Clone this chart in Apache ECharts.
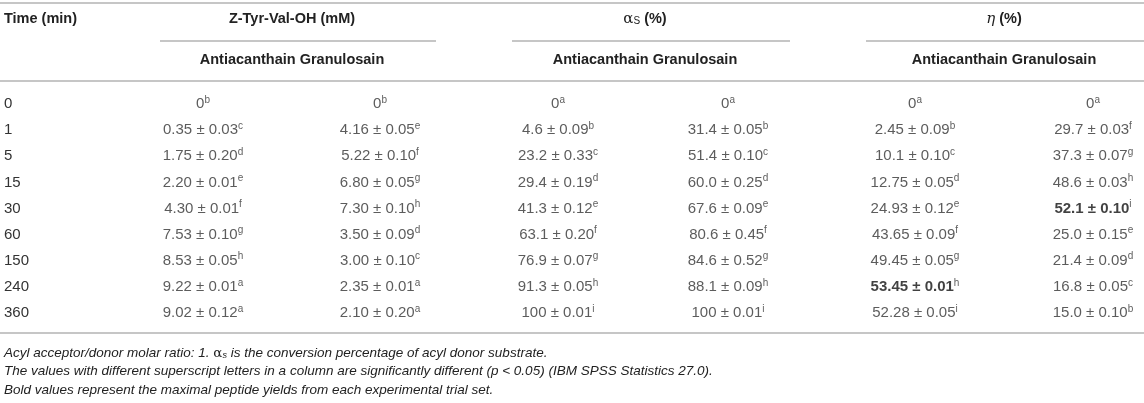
<!DOCTYPE html>
<html><head><meta charset="utf-8">
<script src="https://cdn.jsdelivr.net/npm/echarts@6.0.0/dist/echarts.min.js"></script>
<style>html,body{margin:0;padding:0;background:#fff}#c{width:1144px;height:403px}</style>
</head><body><div id="c"></div>
<script>
// ---------------- DATA ----------------
const times = ['0','1','5','15','30','60','150','240','360'];
const zAnti = ['0','0.35 ± 0.03','1.75 ± 0.20','2.20 ± 0.01','4.30 ± 0.01','7.53 ± 0.10','8.53 ± 0.05','9.22 ± 0.01','9.02 ± 0.12'];
const zAntiSig = ['b','c','d','e','f','g','h','a','a'];
const zGran = ['0','4.16 ± 0.05','5.22 ± 0.10','6.80 ± 0.05','7.30 ± 0.10','3.50 ± 0.09','3.00 ± 0.10','2.35 ± 0.01','2.10 ± 0.20'];
const zGranSig = ['b','e','f','g','h','d','c','a','a'];
const aAnti = ['0','4.6 ± 0.09','23.2 ± 0.33','29.4 ± 0.19','41.3 ± 0.12','63.1 ± 0.20','76.9 ± 0.07','91.3 ± 0.05','100 ± 0.01'];
const aAntiSig = ['a','b','c','d','e','f','g','h','i'];
const aGran = ['0','31.4 ± 0.05','51.4 ± 0.10','60.0 ± 0.25','67.6 ± 0.09','80.6 ± 0.45','84.6 ± 0.52','88.1 ± 0.09','100 ± 0.01'];
const aGranSig = ['a','b','c','d','e','f','g','h','i'];
const eAnti = ['0','2.45 ± 0.09','10.1 ± 0.10','12.75 ± 0.05','24.93 ± 0.12','43.65 ± 0.09','49.45 ± 0.05','53.45 ± 0.01','52.28 ± 0.05'];
const eAntiSig = ['a','b','c','d','e','f','g','h','i'];
const eGran = ['0','29.7 ± 0.03','37.3 ± 0.07','48.6 ± 0.03','52.1 ± 0.10','25.0 ± 0.15','21.4 ± 0.09','16.8 ± 0.05','15.0 ± 0.10'];
const eGranSig = ['a','f','g','h','i','e','d','c','b'];

const groupTitles = ['Z-Tyr-Val-OH (mM)', '{g|α}{sub|S}{b| (%)}', '{gi|η}{b| (%)}'];
const subTitle = 'Antiacanthain Granulosain';
const timeTitle = 'Time (min)';
const footnotes = [
  '{i|Acyl acceptor/donor molar ratio: 1. }{g|α}{sub|s}{i| is the conversion percentage of acyl donor substrate.}',
  '{i|The values with different superscript letters in a column are significantly different (p < 0.05) (IBM SPSS Statistics 27.0).}',
  '{i|Bold values represent the maximal peptide yields from each experimental trial set.}'
];

// ---------------- LAYOUT ----------------
const W = 1144, H = 403;
const FONT = '"Liberation Sans", Arial, Helvetica, sans-serif';
const TXT = '#333333';
const RULE = '#c6c6c6';
const COL_X = [203, 380, 558, 728, 915, 1093];
const GROUP_CX = [292, 645, 1004];
const GROUP_LINE = [[160, 436], [512, 790], [866, 1144]];
const ROW_TOP = 91, ROW_H = 235;

const columns = [
  [zAnti, zAntiSig], [zGran, zGranSig],
  [aAnti, aAntiSig], [aGran, aGranSig],
  [eAnti, eAntiSig], [eGran, eGranSig]
];
// bold = maximal yield (η columns)
function maxIdx(arr) {
  let m = -Infinity, k = -1;
  arr.forEach((s, i) => { const v = parseFloat(s); if (v > m) { m = v; k = i; } });
  return k;
}
const boldIdx = [-1, -1, -1, -1, maxIdx(eAnti), maxIdx(eGran)];

const cellRich = {
  v: { fontSize: 15, fontFamily: FONT, color: TXT, lineHeight: 18 },
  vb: { fontSize: 15, fontFamily: FONT, color: '#111', fontWeight: 'bold', lineHeight: 18 },
  s: { fontSize: 10, fontFamily: FONT, color: TXT, verticalAlign: 'top', lineHeight: 12 }
};

const series = columns.map((col, c) => ({
  type: 'scatter',
  symbolSize: 0,
  silent: true,
  animation: false,
  data: col[0].map((v, i) => [COL_X[c], i]),
  label: {
    show: true,
    position: 'inside',
    align: 'center',
    verticalAlign: 'middle',
    rich: cellRich,
    formatter: p => {
      const i = p.dataIndex;
      const key = (i === boldIdx[c]) ? 'vb' : 'v';
      return '{' + key + '|' + col[0][i] + '}{s|' + col[1][i] + '}';
    }
  }
}));

const headRich = {
  b: { fontSize: 14.5, fontFamily: FONT, fontWeight: 'bold', fill: '#222' },
  g: { fontSize: 15, fontFamily: 'DejaVu Serif, serif', fill: '#222' },
  gi: { fontSize: 15, fontFamily: 'DejaVu Serif, serif', fontStyle: 'italic', fill: '#222' },
  sub: { fontSize: 10, fontFamily: FONT, fill: '#222', verticalAlign: 'bottom', lineHeight: 12 }
};
const footRich = {
  i: { fontSize: 13.5, fontFamily: FONT, fontStyle: 'italic', fill: '#222' },
  g: { fontSize: 13.5, fontFamily: 'DejaVu Serif, serif', fill: '#222' },
  sub: { fontSize: 9, fontFamily: FONT, fontStyle: 'italic', fill: '#222', verticalAlign: 'bottom', lineHeight: 10 }
};

function hline(x1, x2, y) {
  return { type: 'line', silent: true, shape: { x1, y1: y, x2, y2: y }, style: { stroke: RULE, lineWidth: 2 } };
}
function text(t, x, y, align, rich) {
  return {
    type: 'text', silent: true, x, y,
    style: { text: t, rich, align, textAlign: align, verticalAlign: 'middle', textVerticalAlign: 'middle' }
  };
}

const graphic = [
  hline(0, W, 3),
  hline(0, W, 81),
  hline(0, W, 333),
  ...GROUP_LINE.map(g => hline(g[0], g[1], 41)),
  text('{b|' + timeTitle + '}', 4, 19, 'left', headRich),
  ...groupTitles.map((g, k) => text(k === 0 ? '{b|' + g + '}' : g, GROUP_CX[k], 19, 'center', headRich)),
  ...GROUP_CX.map(cx => text('{b|' + subTitle + '}', cx, 60, 'center', headRich)),
  ...footnotes.map((f, k) => text(f, 4, 353 + k * 18.5, 'left', footRich))
];

const chart = echarts.init(document.getElementById('c'), null, { renderer: 'canvas' });
chart.setOption({
  animation: false,
  backgroundColor: '#fff',
  grid: { left: 0, right: 0, top: ROW_TOP, height: ROW_H, containLabel: false },
  xAxis: { type: 'value', min: 0, max: W, show: false },
  yAxis: {
    type: 'category', data: times, inverse: true,
    axisLine: { show: false }, axisTick: { show: false }, splitLine: { show: false },
    axisLabel: { inside: true, margin: 4, align: 'left', fontSize: 15, fontFamily: FONT, color: TXT }
  },
  series,
  graphic
});
</script>
</body></html>
